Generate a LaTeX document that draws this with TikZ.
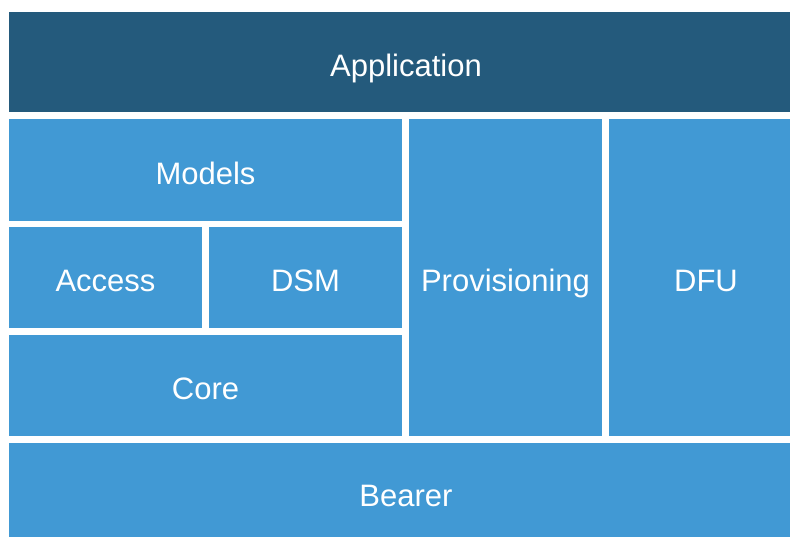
\documentclass[tikz,border=0pt]{standalone}
\usepackage{fontspec}
\setmainfont{Liberation Sans}
\definecolor{appblue}{HTML}{245A7C}
\definecolor{layerblue}{HTML}{4199D4}
\usepackage{tikz}

\begin{document}
\begin{tikzpicture}[x=1pt, y=-1pt,
  every node/.style={font=\fontsize{31}{37}\selectfont, text=white},
  layer/.style={rectangle, fill=layerblue, inner sep=0pt, align=center,
                text height=28pt, text depth=0pt},
  top/.style={layer, fill=appblue}
]
  \fill[white] (0,0) rectangle (790,536);
  \useasboundingbox (0,0) rectangle (790,536);
  \clip (0,0) rectangle (790,536);

  % right column and bottom run past the frame
  \node[top, minimum width=794pt, minimum height=100pt] (app)
    at (406, 62) {Application};

  \node[layer, minimum width=393pt, minimum height=102pt] (models)
    at (205.5, 170) {Models};
  \node[layer, minimum width=193pt, minimum height=101pt] (access)
    at (105.5, 277.5) {Access};
  \node[layer, minimum width=193pt, minimum height=101pt] (dsm)
    at (305.5, 277.5) {DSM};
  \node[layer, minimum width=393pt, minimum height=101pt] (core)
    at (205.5, 385.5) {Core};

  \node[layer, minimum width=193pt, minimum height=317pt] (prov)
    at (505.5, 277.5) {Provisioning};
  \node[layer, minimum width=194pt, minimum height=317pt] (dfu)
    at (706, 277.5) {DFU};

  \node[layer, minimum width=794pt, minimum height=98pt] (bearer)
    at (406, 492) {Bearer};
\end{tikzpicture}
\end{document}
